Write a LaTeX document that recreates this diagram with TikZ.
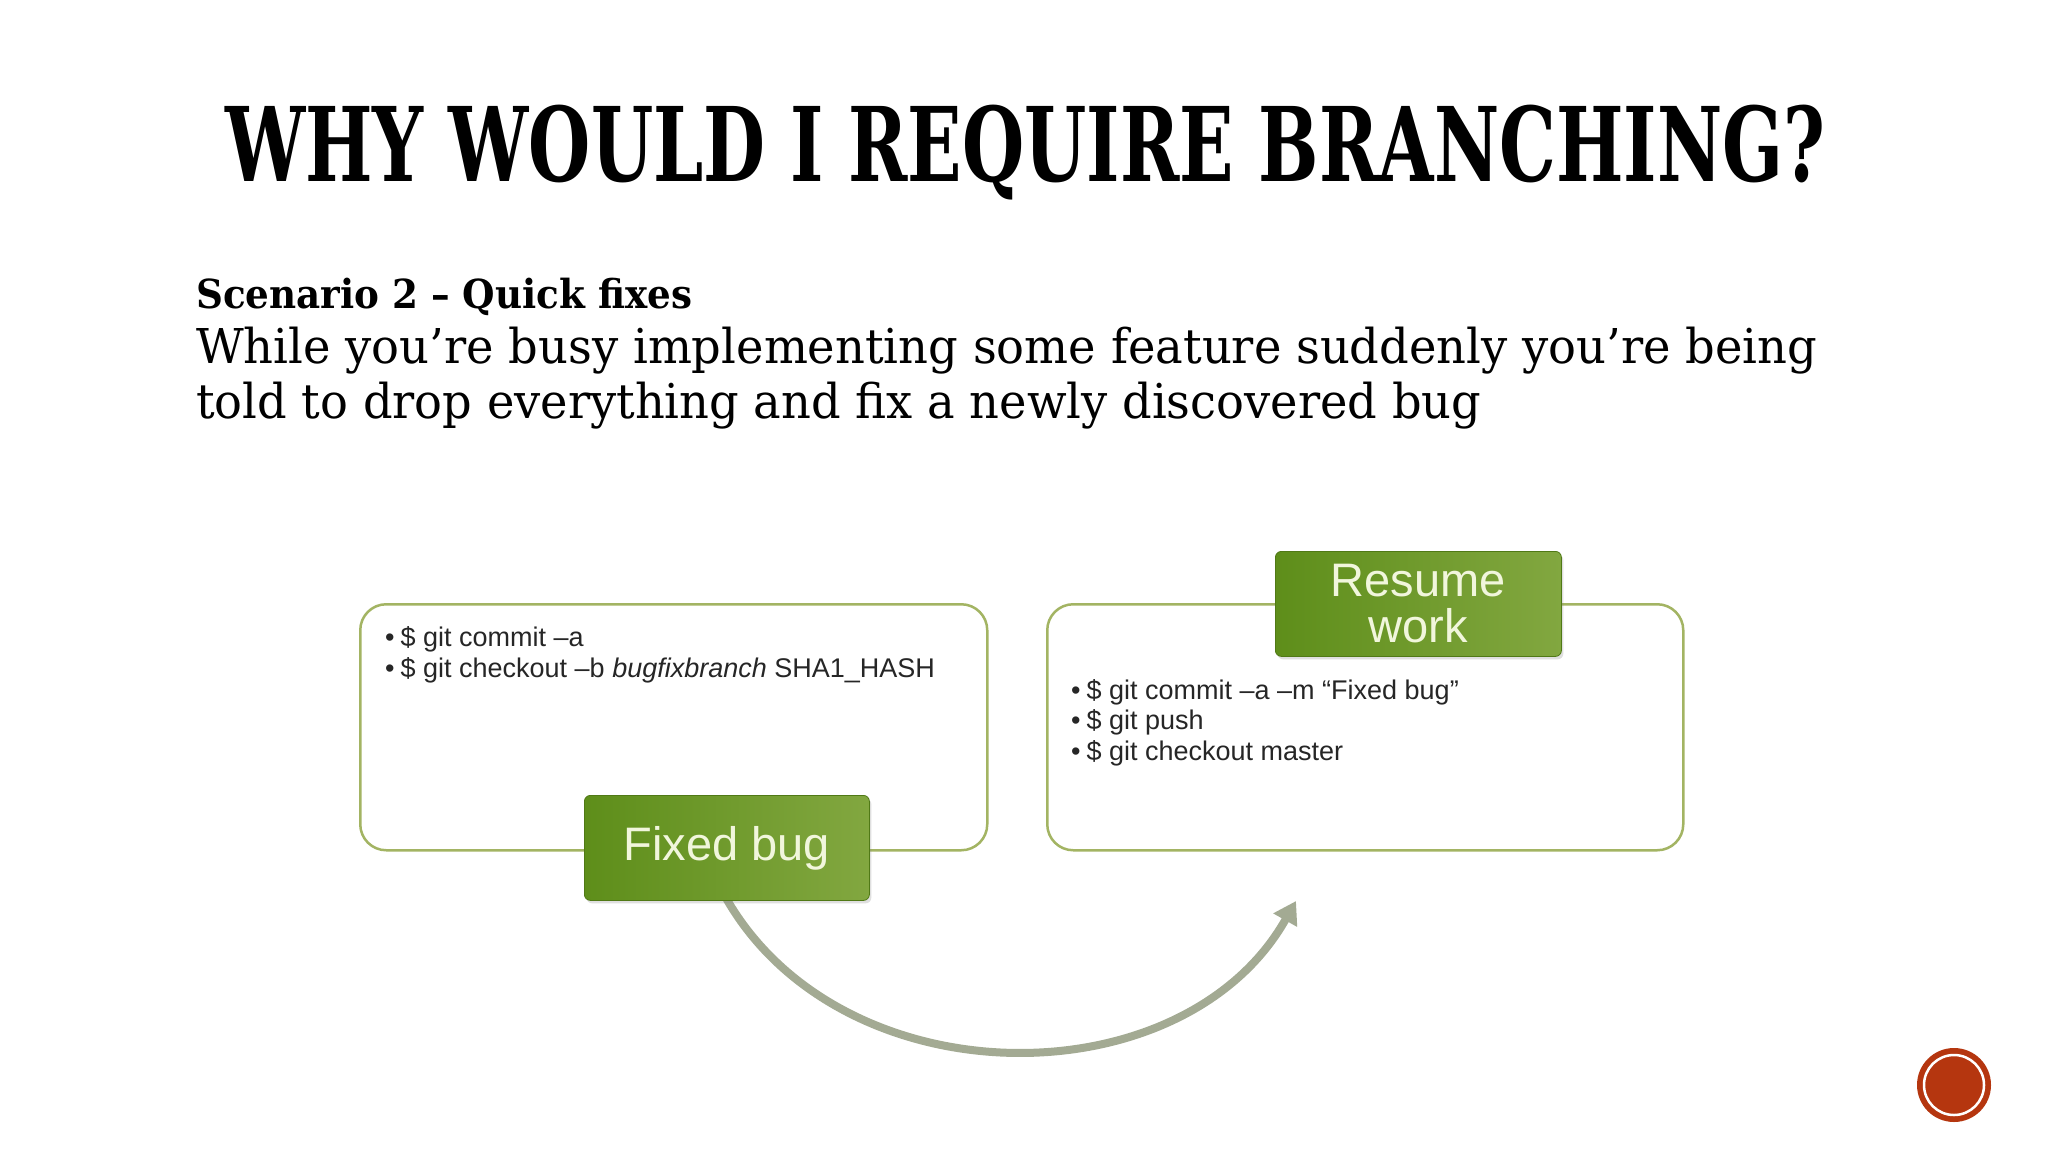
\documentclass[tikz,border=0pt]{standalone}
\usepackage{fontspec}
\usepackage{graphicx}
\setmainfont{DejaVu Serif}
\newfontfamily\boxfont{Liberation Sans}
\usetikzlibrary{arrows.meta,calc,shadows}
\definecolor{boxline}{HTML}{A3B463}
\definecolor{gdark}{HTML}{5E8E1A}
\definecolor{glight}{HTML}{82A740}
\definecolor{gtext}{HTML}{F1F6DC}
\definecolor{arrowc}{HTML}{A3AA93}
\definecolor{redc}{HTML}{B5360F}
\begin{document}
\begin{tikzpicture}[x=1pt,y=-1pt,
  panel/.style={draw=boxline, line width=2.5pt, rounded corners=26pt, fill=white, inner sep=0pt},
  tag/.style={rounded corners=6pt, left color=gdark, right color=glight, draw=gdark!85!black, line width=0.8pt,
    text=gtext, font=\boxfont\fontsize{47}{46}\selectfont, align=center, inner sep=0pt,
    drop shadow={opacity=0.25, shadow xshift=2pt, shadow yshift=-3pt}},
  cmd/.style={font=\boxfont\fontsize{27}{30}\selectfont, anchor=base west, inner sep=0pt, text=black!85},
  txt/.style={anchor=base west, inner sep=0pt, text=black}]
\fill[white] (0,0) rectangle (2048,1152);
\path[use as bounding box] (0,0) rectangle (2048,1152);

% title and text
\node[txt] (title) at (225,181) {\resizebox{1600pt}{\height}{\fontsize{103}{110}\selectfont\bfseries WHY WOULD I REQUIRE BRANCHING?}};
\node[txt] (sub) at (196,308) {\resizebox{496pt}{\height}{\fontsize{40}{48}\selectfont\bfseries Scenario 2 – Quick fixes}};
\node[txt] (body1) at (196,363) {\resizebox{1621pt}{\height}{\fontsize{48}{58}\selectfont While you’re busy implementing some feature suddenly you’re being}};
\node[txt] (body2) at (196,418) {\resizebox{1285pt}{\height}{\fontsize{48}{58}\selectfont told to drop everything and fix a newly discovered bug}};

% panels
\node[panel, minimum width=627pt, minimum height=246pt, anchor=north west] (left) at (359,603) {};
\node[panel, minimum width=636pt, minimum height=246pt, anchor=north west] (right) at (1046,603) {};

% commands
\node[cmd] (l1) at (385,646) {•\hspace{6pt}\$ git commit –a};
\node[cmd] (l2) at (385,677) {•\hspace{6pt}\$ git checkout –b \textit{bugfixbranch} SHA1\_HASH};
\node[cmd] (r1) at (1071,699) {•\hspace{6pt}\$ git commit –a –m “Fixed bug”};
\node[cmd] (r2) at (1071,729) {•\hspace{6pt}\$ git push};
\node[cmd] (r3) at (1071,760) {•\hspace{6pt}\$ git checkout master};

% arrow
\coordinate (tip) at (1296,901);
\coordinate (start) at (726,898);
\draw[line width=8pt, arrowc, -{Triangle[length=22pt,width=26pt]}]
  (start) .. controls (842,1101) and (1183,1101) .. (tip);

% tags
\node[tag, minimum width=285pt, minimum height=105pt, anchor=north west] (fb) at (584,795) {Fixed bug};
\node[tag, minimum width=286pt, minimum height=105pt, anchor=north west] (rw) at (1275,551) {Resume\\work};

% red dot
\node[circle, fill=redc, minimum size=74pt, inner sep=0pt] (dot) at (1954,1085) {};
\draw[white, line width=2.5pt] (dot.center) circle (30pt);
\end{tikzpicture}
\end{document}
